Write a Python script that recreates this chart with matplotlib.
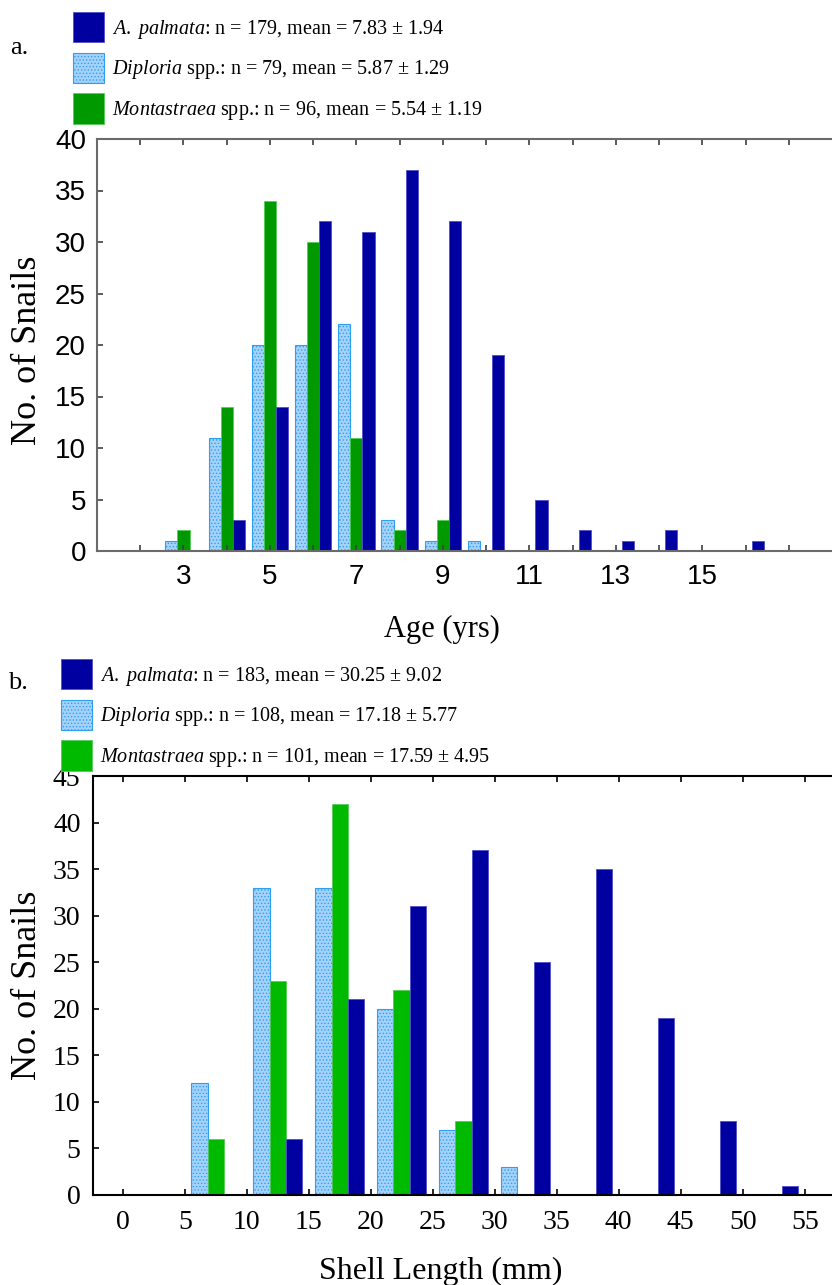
import numpy as np
import matplotlib.pyplot as plt
from matplotlib.patches import Patch

plt.rcParams['font.family'] = ['Liberation Serif', 'DejaVu Serif']
plt.rcParams['mathtext.fontset'] = 'custom'
plt.rcParams['mathtext.rm'] = 'Liberation Serif'
plt.rcParams['mathtext.it'] = 'Liberation Serif:italic'
plt.rcParams['hatch.linewidth'] = 0.6

# (a) number of snails per age class
ages = np.arange(3, 17)
age_diploria = [1, 11, 20, 20, 22, 3, 1, 1, 0, 0, 0, 0, 0, 0]
age_montastraea = [2, 14, 34, 30, 11, 2, 3, 0, 0, 0, 0, 0, 0, 0]
age_palmata = [0, 3, 14, 32, 31, 37, 32, 19, 5, 2, 1, 2, 0, 1]

# (b) number of snails per 5 mm shell length class (lower bin edge)
length_bins = np.arange(5, 55, 5)
len_diploria = [12, 33, 33, 20, 7, 3, 0, 0, 0, 0]
len_montastraea = [6, 23, 42, 22, 8, 0, 0, 0, 0, 0]
len_palmata = [0, 6, 21, 31, 37, 25, 35, 19, 8, 1]

labels_a = [r'$\mathit{A.\ palmata}$: n = 179, mean = 7.83 $\pm$ 1.94',
            r'$\mathit{Diploria}$ spp.: n = 79, mean = 5.87 $\pm$ 1.29',
            r'$\mathit{Montastraea}$ spp.: n = 96, mean = 5.54 $\pm$ 1.19']
labels_b = [r'$\mathit{A.\ palmata}$: n = 183, mean = 30.25 $\pm$ 9.02',
            r'$\mathit{Diploria}$ spp.: n = 108, mean = 17.18 $\pm$ 5.77',
            r'$\mathit{Montastraea}$ spp.: n = 101, mean = 17.59 $\pm$ 4.95']

PALMATA = '#0000a0'
DIPLORIA_FACE = '#a4d2fa'
DIPLORIA_EDGE = '#2f9ff2'
GREEN_A = '#009a00'
GREEN_B = '#00ba00'


def draw_bars(ax, x, values, width, **style):
    # skip empty classes so no stub is drawn on the baseline
    values = np.asarray(values)
    keep = values > 0
    ax.bar(np.asarray(x)[keep], values[keep], width=width, **style)


def species_styles(green):
    dip = dict(facecolor=DIPLORIA_FACE, edgecolor=DIPLORIA_EDGE, hatch='.....', linewidth=0.8)
    mon = dict(facecolor=green, edgecolor='#55cc55', linewidth=0.6)
    pal = dict(facecolor=PALMATA, edgecolor='#5050c8', linewidth=0.6)
    return dip, mon, pal


def add_legend(handles, labels, x, y):
    fig.legend(handles, labels, loc='upper left', bbox_to_anchor=(x, y),
               frameon=False, fontsize=14.5, handlelength=1.55, handleheight=1.95,
               handletextpad=0.4, labelspacing=0.5, borderpad=0, borderaxespad=0)


fig = plt.figure(figsize=(8.32, 12.85), dpi=100)

# ---------- panel a: age ----------
ax1 = fig.add_axes([97 / 832, 1 - 551 / 1285, 1 - 97 / 832, (551 - 139) / 1285])
w = 0.28
dip, mon, pal = species_styles(GREEN_A)
draw_bars(ax1, ages - w, age_diploria, w, **dip)
draw_bars(ax1, ages, age_montastraea, w, **mon)
draw_bars(ax1, ages + w, age_palmata, w, **pal)

ax1.set_xlim(1, 18)
ax1.set_ylim(0, 40)
xt = np.arange(2, 18)
ax1.set_xticks(xt)
ax1.set_xticklabels([str(t) if (t % 2 == 1 and 3 <= t <= 15) else '' for t in xt])
ax1.set_yticks(np.arange(0, 41, 5))
for lab in ax1.get_xticklabels() + ax1.get_yticklabels():
    lab.set_family(['Liberation Sans', 'DejaVu Sans'])
    lab.set_fontsize(20)
ax1.tick_params(axis='both', direction='in', length=4, width=1.2, color='#404040')
ax1.tick_params(axis='x', top=True, pad=9)
ax1.tick_params(axis='y', pad=8)
for side in ['left', 'bottom', 'top']:
    ax1.spines[side].set_color('#6a6a6a')
    ax1.spines[side].set_linewidth(1.5)
ax1.spines['right'].set_visible(False)
ax1.set_xlabel('Age (yrs)', fontsize=22)
ax1.xaxis.set_label_coords(0.469, -0.155)
ax1.set_ylabel('No. of Snails', fontsize=26)
ax1.yaxis.set_label_coords(-0.072, 0.488)

add_legend([Patch(**pal), Patch(**dip), Patch(**mon)], labels_a, 73 / 832, 1 - 12 / 1285)
fig.text(10 / 832, 1 - 48 / 1285, 'a.', fontsize=19, va='center', ha='left')

# ---------- panel b: shell length ----------
ax2 = fig.add_axes([93 / 832, 1 - 1195 / 1285, 1 - 93 / 832, (1195 - 776) / 1285])
bw = 1.33
centers = length_bins + 2.5
dip, mon, pal = species_styles(GREEN_B)
draw_bars(ax2, centers - bw, len_diploria, bw, **dip)
draw_bars(ax2, centers, len_montastraea, bw, **mon)
draw_bars(ax2, centers + bw, len_palmata, bw, **pal)

ax2.set_xlim(-2.4, 57.2)
ax2.set_ylim(0, 45)
ax2.set_xticks(np.arange(0, 56, 5))
ax2.set_yticks(np.arange(0, 46, 5))
ax2.tick_params(axis='both', direction='in', length=4, width=1.2, labelsize=20, color='black')
ax2.tick_params(axis='x', top=True, pad=11)
ax2.tick_params(axis='y', pad=9)
for side in ['left', 'bottom', 'top']:
    ax2.spines[side].set_linewidth(1.5)
ax2.spines['right'].set_visible(False)
ax2.set_xlabel('Shell Length (mm)', fontsize=23)
ax2.xaxis.set_label_coords(0.471, -0.148)
ax2.set_ylabel('No. of Snails', fontsize=26)
ax2.yaxis.set_label_coords(-0.066, 0.501)

add_legend([Patch(**pal), Patch(**dip), Patch(**mon)], labels_b, 61 / 832, 1 - 659 / 1285)
fig.text(8 / 832, 1 - 683 / 1285, 'b.', fontsize=19, va='center', ha='left')

fig.savefig('out.png', dpi=100)
